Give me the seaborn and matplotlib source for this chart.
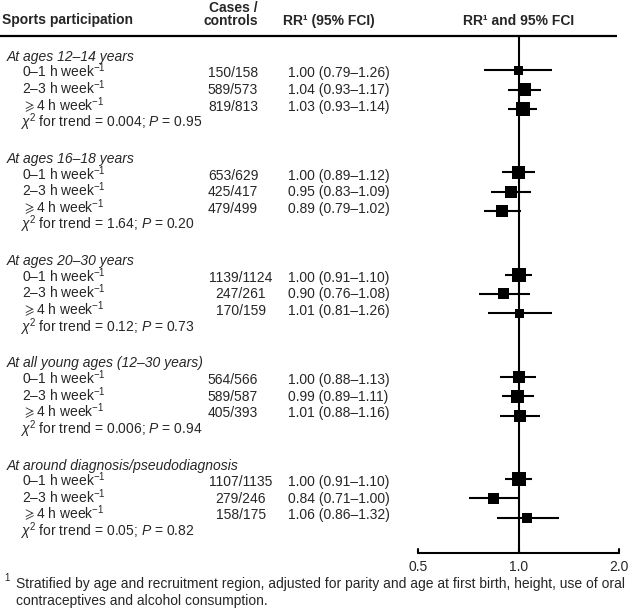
import numpy as np
import pandas as pd
import seaborn as sns
import matplotlib.pyplot as plt

sns.set_style("white")
plt.rcParams["font.family"] = ["Liberation Sans", "DejaVu Sans"]
plt.rcParams["mathtext.fontset"] = "custom"
plt.rcParams["mathtext.rm"] = "Liberation Sans"
plt.rcParams["mathtext.it"] = "Liberation Sans:italic"
plt.rcParams["mathtext.bf"] = "Liberation Sans:bold"
plt.rcParams["mathtext.fallback"] = "stixsans"

groups = [
    "At ages 12\u201314 years",
    "At ages 16\u201318 years",
    "At ages 20\u201330 years",
    "At all young ages (12\u201330 years)",
    "At around diagnosis/pseudodiagnosis",
]
levels = ["0\u20131 h week$^{-1}$", "2\u20133 h week$^{-1}$", "$\\geqslant$4 h week$^{-1}$"]
cases = ["150/158", "589/573", "819/813",
         "653/629", "425/417", "479/499",
         "1139/1124", "247/261", "170/159",
         "564/566", "589/587", "405/393",
         "1107/1135", "279/246", "158/175"]
rr = [1.00, 1.04, 1.03, 1.00, 0.95, 0.89, 1.00, 0.90, 1.01, 1.00, 0.99, 1.01, 1.00, 0.84, 1.06]
ci_lo = [0.79, 0.93, 0.93, 0.89, 0.83, 0.79, 0.91, 0.76, 0.81, 0.88, 0.89, 0.88, 0.91, 0.71, 0.86]
ci_hi = [1.26, 1.17, 1.14, 1.12, 1.09, 1.02, 1.10, 1.08, 1.26, 1.13, 1.11, 1.16, 1.10, 1.00, 1.32]
trend_chi2 = ["0.004", "1.64", "0.12", "0.006", "0.05"]
trend_p = ["0.95", "0.20", "0.73", "0.94", "0.82"]
# box widths (px) as drawn in the figure
box_px = [9, 13, 14, 13, 12, 12, 14, 11, 9, 12, 13, 12, 14, 11, 10]
xticks = [0.5, 1.0, 2.0]

W, H = 630, 612
fig = plt.figure(figsize=(W / 100, H / 100), dpi=100)
ax = fig.add_axes([0, 0, 1, 1])

# x: log2 scale, 0.5 at px 418, 2.0 at px 619
px_per = (619 - 418) / 2.0
ax.set_xscale("log", base=2)
ax.set_xlim(2 ** (-1 - 418 / px_per), 2 ** (1 + (W - 619) / px_per))
ax.set_ylim(H, 0)
ax.axis("off")
tx = ax.get_yaxis_transform()  # x in axes fraction, y in data (px)

FS = 10
GROUP_STEP = 102.2
MID0 = 89.5
TEXT_STEP = 16.6
MARK_STEP = 19.4
BASE = 4.5  # baseline offset below visual centre

rows = []
for g, name in enumerate(groups):
    mid = MID0 + g * GROUP_STEP
    ax.text(7 / W, mid - 2 * TEXT_STEP + BASE, name, transform=tx, fontsize=FS,
            style="italic", va="baseline", ha="left")
    grp_cases = cases[g * 3:(g + 1) * 3]
    ccol = 241 if max(len(c) for c in grp_cases) > 7 else 233
    for i, lev in enumerate(levels):
        k = g * 3 + i
        ty = mid + (i - 1) * TEXT_STEP + BASE
        ax.text(22 / W, ty, lev, transform=tx, fontsize=FS, va="baseline", ha="left")
        ax.text(ccol / W, ty, cases[k], transform=tx, fontsize=FS, va="baseline", ha="center")
        ax.text(288 / W, ty, f"{rr[k]:.2f} ({ci_lo[k]:.2f}\u2013{ci_hi[k]:.2f})",
                transform=tx, fontsize=FS, va="baseline", ha="left")
        rows.append({"rr": rr[k], "lo": ci_lo[k], "hi": ci_hi[k],
                     "y": mid + (i - 1) * MARK_STEP,
                     "area": (box_px[k] * 0.72) ** 2})
    ax.text(20 / W, mid + 2 * TEXT_STEP + BASE,
            f"$\\chi^2$ for trend = {trend_chi2[g]}; $P$ = {trend_p[g]}",
            transform=tx, fontsize=FS, va="baseline", ha="left")

df = pd.DataFrame(rows)

# header
HEAD_Y = 36
ax.text(2 / W, 24, "Sports participation", transform=tx, fontsize=FS, fontweight="bold",
        va="baseline", ha="left")
ax.text(258 / W, 12, "Cases /", transform=tx, fontsize=FS, fontweight="bold",
        va="baseline", ha="right")
ax.text(258 / W, 25, "controls", transform=tx, fontsize=FS, fontweight="bold",
        va="baseline", ha="right")
ax.text(283 / W, 25, "RR\u00b9 (95% FCI)", transform=tx, fontsize=FS, fontweight="bold",
        va="baseline", ha="left")
ax.text(1.0, 25, "RR\u00b9 and 95% FCI", fontsize=FS, fontweight="bold",
        va="baseline", ha="center")
ax.plot([0, 617 / W], [HEAD_Y, HEAD_Y], transform=tx, color="black", lw=1.6,
        solid_capstyle="butt")

# reference line and axis
AXIS_Y = 553
ax.plot([1.0, 1.0], [HEAD_Y, AXIS_Y], color="black", lw=1.5)
ax.plot([xticks[0], xticks[-1]], [AXIS_Y, AXIS_Y], color="black", lw=1.5)
for t in xticks:
    ax.plot([t, t], [AXIS_Y, AXIS_Y - 4], color="black", lw=1.5)
    ax.text(t, AXIS_Y + 18, f"{t:.1f}", fontsize=FS, ha="center", va="baseline")

# CIs and boxes
ax.hlines(df["y"], df["lo"], df["hi"], color="black", lw=1.5)
sns.scatterplot(data=df, x="rr", y="y", size="area",
                sizes=(df["area"].min(), df["area"].max()),
                marker="s", color="black", edgecolor="none", legend=False, ax=ax)
ax.axis("off")

# footnote
ax.text(4 / W, 581, "1", transform=tx, fontsize=7, va="baseline", ha="left")
ax.text(16 / W, 588,
        "Stratified by age and recruitment region, adjusted for parity and age at first birth, height, use of oral",
        transform=tx, fontsize=FS, va="baseline", ha="left")
ax.text(16 / W, 605, "contraceptives and alcohol consumption.",
        transform=tx, fontsize=FS, va="baseline", ha="left")

fig.savefig("out.png", dpi=100)
